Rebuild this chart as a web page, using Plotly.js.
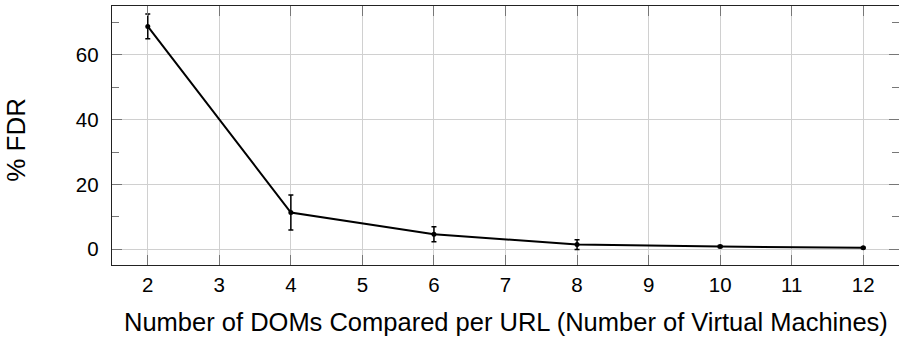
<!DOCTYPE html>
<html>
<head>
<meta charset="utf-8">
<script src="https://cdn.plot.ly/plotly-3.0.1.min.js"></script>
<style>html,body{margin:0;padding:0;background:#fff;}#chart{width:899px;height:339px;}</style>
</head>
<body>
<div id="chart"></div>
<script>
const vmCounts = [2, 4, 6, 8, 10, 12];
const fdrPercent = [68.8, 11.3, 4.6, 1.4, 0.8, 0.4];
const fdrError = [3.8, 5.4, 2.3, 1.5, 0.3, 0.2];
const xTickValues = [2, 3, 4, 5, 6, 7, 8, 9, 10, 11, 12];
const yTickValues = [0, 20, 40, 60];
const xTitle = "Number of DOMs Compared per URL (Number of Virtual Machines)";
const yTitle = "% FDR";

const FONT = "Liberation Sans, Arial, sans-serif";

const trace = {
  x: vmCounts,
  y: fdrPercent,
  type: "scatter",
  mode: "lines+markers",
  line: {color: "#000", width: 2},
  marker: {color: "#000", size: 5},
  error_y: {type: "data", array: fdrError, visible: true, color: "#000", thickness: 1.5, width: 2.5}
};

const layout = {
  width: 899, height: 339,
  margin: {l: 112, r: 0, t: 6, b: 74},
  paper_bgcolor: "#fff", plot_bgcolor: "#fff",
  showlegend: false,
  font: {family: FONT, color: "#000", size: 20},
  xaxis: {
    range: [1.5, 12.5],
    tickvals: xTickValues,
    ticktext: xTickValues.map(String),
    ticks: "inside", ticklen: 10, tickwidth: 1, tickcolor: "#777",
    showline: true, linecolor: "#222", linewidth: 1.3, mirror: "ticks",
    showgrid: true, gridcolor: "#d0d0d0", gridwidth: 1,
    zeroline: false,
    tickfont: {family: FONT, size: 20.5, color: "#000"},
    ticklabelstandoff: 1
  },
  yaxis: {
    range: [-4.9, 75.1],
    tickvals: yTickValues,
    ticktext: yTickValues.map(String),
    ticks: "inside", ticklen: 10, tickwidth: 1, tickcolor: "#777",
    minor: {dtick: 10, tick0: 0, ticks: "inside", ticklen: 7, tickcolor: "#777", tickwidth: 1, showgrid: false},
    showline: true, linecolor: "#222", linewidth: 1.3, mirror: "ticks",
    showgrid: true, gridcolor: "#d0d0d0", gridwidth: 1,
    zeroline: false,
    tickfont: {family: FONT, size: 20.5, color: "#000"},
    ticklabelstandoff: 8
  },
  annotations: [
    {text: xTitle, xref: "paper", yref: "paper", x: 0.5, y: -0.16, xanchor: "center", yanchor: "top",
     showarrow: false, font: {family: FONT, size: 25.5, color: "#000"}},
    {text: yTitle, xref: "paper", yref: "paper", x: -0.1214, xanchor: "center", y: 0.485, yanchor: "middle",
     textangle: -90, showarrow: false, font: {family: FONT, size: 26, color: "#000"}}
  ]
};

Plotly.newPlot("chart", [trace], layout, {displayModeBar: false, staticPlot: true});
</script>
</body>
</html>
